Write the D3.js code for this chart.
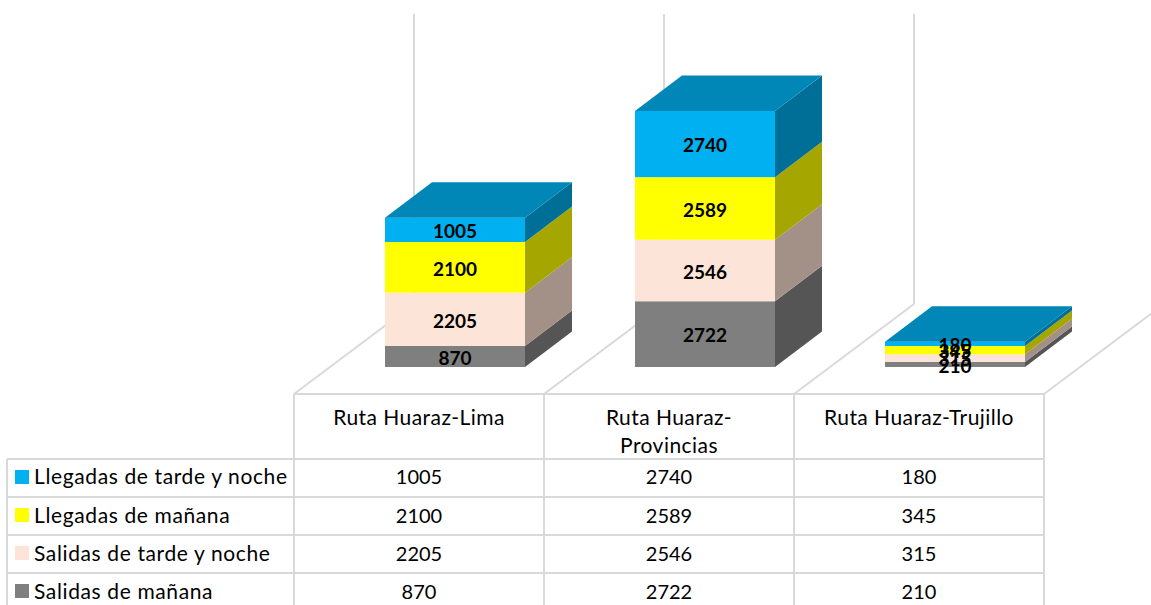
<!DOCTYPE html>
<html><head><meta charset="utf-8">
<script src="https://cdn.jsdelivr.net/npm/d3@7/dist/d3.min.js"></script>
<style>html,body{margin:0;background:#fff}svg{display:block}text{font-family:Lato,"Open Sans",sans-serif;fill:#000}</style>
</head><body><svg id="c" width="1151" height="605"></svg>
<script>
const categories=["Ruta Huaraz-Lima","Ruta Huaraz-Provincias","Ruta Huaraz-Trujillo"];
const categoryLines=[["Ruta Huaraz-Lima"],["Ruta Huaraz-","Provincias"],["Ruta Huaraz-Trujillo"]];
const seriesNames=["Salidas de mañana","Salidas de tarde y noche","Llegadas de mañana","Llegadas de tarde y noche"];
const salidasManana=[870,2722,210];
const salidasTarde=[2205,2546,315];
const llegadasManana=[2100,2589,345];
const llegadasTarde=[1005,2740,180];
const frontColors=["#7f7f7f","#fde4d8","#ffff00","#00b0f0"];
const sideColors=["#555555","#a39188","#a6a600","#006f98"];
const topColor="#0087b8";
const gridColor="#d9d9d9";
const values=[salidasManana,salidasTarde,llegadasManana,llegadasTarde];

const svg=d3.select("#c");
const x=d3.scaleBand().domain(categories).range([294,1044]);
const y=d3.scaleLinear().domain([0,10597]).range([367,111]);
const rowNames=seriesNames.slice().reverse();
const rowY=d3.scaleBand().domain(rowNames).range([459,611]);
const barOffset=91,barW=140,dx=47,dy=-35.5;
const line=(a,b,c,d)=>svg.append("line").attr("x1",a).attr("y1",b).attr("x2",c).attr("y2",d).attr("stroke",gridColor).attr("stroke-width",2);

// walls and floor
const edges=x.domain().map(d=>x(d)).concat([1044]);
edges.forEach((e,i)=>{
  const wx=e+120, wy=304;
  if(i<3) line(wx,14,wx,wy);
  line(e,394,Math.min(wx,1151),i<3?wy:394-(1151-e)*(90/120));
});

// bars
categories.forEach((c,i)=>{
  const left=x(c)+barOffset;
  let base=0;
  const g=svg.append("g");
  values.forEach((s,k)=>{
    const y0=y(base),y1=y(base+s[i]);
    g.append("polygon").attr("fill",sideColors[k])
      .attr("points",[[left+barW,y0],[left+barW+dx,y0+dy],[left+barW+dx,y1+dy],[left+barW,y1]].join(" "));
    g.append("rect").attr("x",left).attr("y",y1).attr("width",barW).attr("height",y0-y1).attr("fill",frontColors[k]);
    base+=s[i];
  });
  const t=y(base);
  g.append("polygon").attr("fill",topColor)
    .attr("points",[[left,t],[left+dx,t+dy],[left+barW+dx,t+dy],[left+barW,t]].join(" "));
});
// data labels
categories.forEach((c,i)=>{
  let base=0;
  values.forEach(s=>{
    svg.append("text").attr("x",x(c)+barOffset+barW/2).attr("y",y(base+s[i]/2)+0.7)
      .attr("text-anchor","middle").attr("dominant-baseline","central")
      .attr("font-size",19).attr("font-weight",700).text(s[i]);
    base+=s[i];
  });
});

// data table
edges.forEach(e=>line(e,394,e,605));
line(7,459,7,605);
line(294,394,1044,394);
rowNames.forEach(n=>line(7,rowY(n),1044,rowY(n)));
categories.forEach((c,i)=>{
  categoryLines[i].forEach((l,j)=>svg.append("text").attr("x",x(c)+x.bandwidth()/2).attr("y",425+j*28)
    .attr("text-anchor","middle").attr("font-size",21).attr("letter-spacing",0.45).text(l));
});
rowNames.forEach((n,r)=>{
  const k=seriesNames.indexOf(n);
  const ry=rowY(n)+rowY.bandwidth()/2-1;
  svg.append("rect").attr("x",15).attr("y",ry-7).attr("width",14).attr("height",14).attr("fill",frontColors[k]);
  svg.append("text").attr("x",34).attr("y",ry+7+(r?1:0)).attr("font-size",21).attr("letter-spacing",0.62).text(n);
  categories.forEach((c,i)=>svg.append("text").attr("x",x(c)+x.bandwidth()/2).attr("y",ry+7+(r?1:0))
    .attr("text-anchor","middle").attr("font-size",20).text(values[k][i]));
});
</script></body></html>
